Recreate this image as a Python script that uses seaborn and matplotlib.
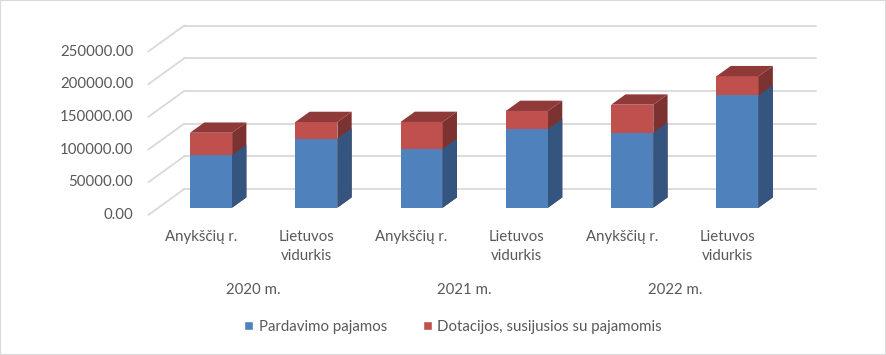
import numpy as np
import pandas as pd
import matplotlib.pyplot as plt
import seaborn as sns
from matplotlib.patches import Polygon, Patch, Rectangle

# --- data ---
years = ["2020 m.", "2021 m.", "2022 m."]
groups = ["Anykščių r.", "Lietuvos\nvidurkis"]
sales = [80400, 105800, 89700, 120200, 114600, 171800]
grants = [34200, 25200, 41400, 27700, 42900, 29200]
yticks = [0, 50000, 100000, 150000, 200000, 250000]
series = ["Pardavimo pajamos", "Dotacijos, susijusios su pajamomis"]

df = pd.DataFrame({
    "bar": [f"{y} {g}" for y in years for g in groups],
    "sales": sales,
    "grants": grants,
})
df["total"] = df["sales"] + df["grants"]

# colours (front / side / top)
blue, blue_side = "#4F81BD", "#33557F"
red, red_side, red_top = "#C0504D", "#7D3232", "#8F3A39"
grid = "#D9D9D9"
text_col = "#595959"
FS = 10.8

sns.set_style("white")
plt.rcParams["font.family"] = ["Lato", "DejaVu Sans"]
plt.rcParams["font.size"] = FS

W, H = 886, 355
fig = plt.figure(figsize=(W / 100, H / 100), dpi=100)
ax = fig.add_axes([158.4 / W, 147.3 / H, 631.8 / W, 163.5 / H])

# front faces: totals in red, sales in blue on top of them
sns.barplot(data=df, x="bar", y="total", color=red, saturation=1,
            width=0.4, errorbar=None, linewidth=0, ax=ax)
n_red = len(ax.patches)
sns.barplot(data=df, x="bar", y="sales", color=blue, saturation=1,
            width=0.4, errorbar=None, linewidth=0, ax=ax)
red_bars = ax.patches[:n_red]
blue_bars = ax.patches[n_red:]

ax.set_xlim(-0.5, 5.5)
ax.set_ylim(0, 250000)
ax.axis("off")

# pixel -> data conversion for the oblique depth direction
sx = 6 / 631.8
sy = 250000 / 163.5
slope = 1.385


def shift(x, y, d):
    # d = depth in vertical pixels (positive = towards the back wall)
    return x + d * slope * sx, y + d * sy


BACK, SIDE, FRONT = 18.7, 10.3, -7.3

# back wall gridlines + left wall diagonals + y labels
for v in yticks:
    x0, y0 = shift(-0.5, v, BACK)
    x1, y1 = shift(5.5, v, BACK)
    ax.plot([x0, x1], [y0, y1], color=grid, lw=1.3, clip_on=False, zorder=0)
    fx, fy = shift(-0.5, v, FRONT)
    ax.plot([fx, x0], [fy, y0], color=grid, lw=1.3, clip_on=False, zorder=0)
    ax.annotate(f"{v:.2f}", (fx, fy), xytext=(-15 * 0.72, 0),
                textcoords="offset points", ha="right", va="center",
                color=text_col, fontsize=FS, annotation_clip=False)


def side_face(p, color, z):
    x = p.get_x() + p.get_width()
    y0, y1 = p.get_y(), p.get_y() + p.get_height()
    pts = [(x, y0), shift(x, y0, SIDE), shift(x, y1, SIDE), (x, y1)]
    ax.add_patch(Polygon(pts, closed=True, facecolor=color, edgecolor="none",
                         zorder=z, clip_on=False))


def top_face(p, color, z):
    x0, x1 = p.get_x(), p.get_x() + p.get_width()
    y = p.get_y() + p.get_height()
    pts = [(x0, y), (x1, y), shift(x1, y, SIDE), shift(x0, y, SIDE)]
    ax.add_patch(Polygon(pts, closed=True, facecolor=color, edgecolor="none",
                         zorder=z, clip_on=False))


for p in red_bars:
    p.set_clip_on(False)
    side_face(p, red_side, 1.5)
    top_face(p, red_top, 1.7)
for p in blue_bars:
    p.set_clip_on(False)
    side_face(p, blue_side, 1.6)

# category labels on the front floor edge
for i in range(len(df)):
    fx, fy = shift(i, 0, FRONT)
    ax.annotate(groups[i % 2], (fx, fy), xytext=(0, -15 * 0.72),
                textcoords="offset points", ha="center", va="top",
                linespacing=1.45, color=text_col, fontsize=FS,
                annotation_clip=False)
for k, yr in enumerate(years):
    fx, fy = shift(2 * k + 0.5, 0, FRONT)
    ax.annotate(yr, (fx, fy), xytext=(0, -75 * 0.72),
                textcoords="offset points", ha="center", va="center",
                color=text_col, fontsize=FS, annotation_clip=False)

handles = [Patch(facecolor=blue, label=series[0]),
           Patch(facecolor=red, label=series[1])]
leg = fig.legend(handles=handles, loc="center", bbox_to_anchor=(453 / W, 28 / H),
                 ncol=2, frameon=False, handlelength=0.6, handleheight=0.6,
                 handletextpad=0.35, columnspacing=2.4, fontsize=FS)
for t in leg.get_texts():
    t.set_color(text_col)

fig.patches.append(Rectangle((0, 0), 1, 1, transform=fig.transFigure,
                             fill=False, edgecolor=grid, lw=1.5))

fig.savefig("out.png", dpi=100)
